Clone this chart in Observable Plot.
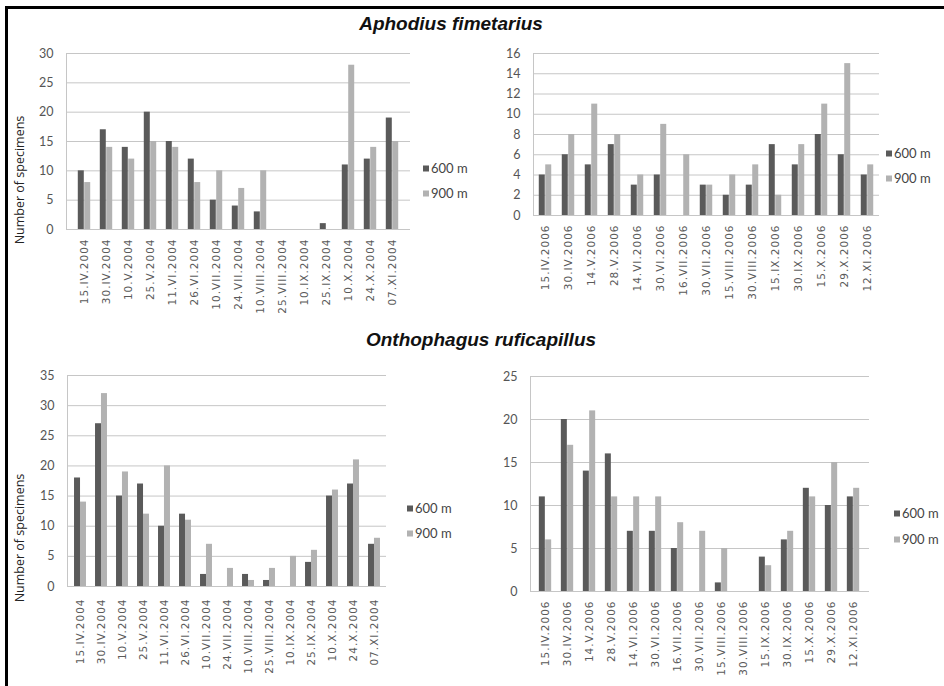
<!DOCTYPE html>
<html><head><meta charset="utf-8">
<script src="https://cdn.jsdelivr.net/npm/d3@7"></script>
<script src="https://cdn.jsdelivr.net/npm/@observablehq/plot@0.6"></script>
<style>
body{margin:0;background:#fff;}
#fig{position:relative;width:944px;height:686px;overflow:hidden;background:#fff;}
.abs{position:absolute;}
.border{position:absolute;left:5px;top:6px;width:950px;height:700px;border-left:3px solid #000;border-top:3px solid #000;}
.title{font-family:"Liberation Sans",Arial,sans-serif;font-weight:bold;font-style:italic;font-size:19px;line-height:19px;color:#111;white-space:nowrap;transform:translateX(-50%);}
.ytitle{font-family:"Open Sans",sans-serif;font-size:12.5px;line-height:14px;color:#222;white-space:nowrap;transform:translate(-50%,-50%) rotate(-90deg);}
.leg{font-family:Lato,sans-serif;font-size:13px;line-height:15px;color:#444;display:flex;align-items:center;white-space:nowrap;transform:translateY(-50%);}
.sw{width:6px;height:6px;margin-right:2px;display:inline-block;}
g[aria-label="x-axis tick label"] text{letter-spacing:1px;}
</style></head>
<body>
<div id="fig"></div>
<script>
// ---- data ----
const dates2004 = ["15.IV.2004","30.IV.2004","10.V.2004","25.V.2004","11.VI.2004","26.VI.2004","10.VII.2004","24.VII.2004","10.VIII.2004","25.VIII.2004","10.IX.2004","25.IX.2004","10.X.2004","24.X.2004","07.XI.2004"];
const dates2006 = ["15.IV.2006","30.IV.2006","14.V.2006","28.V.2006","14.VI.2006","30.VI.2006","16.VII.2006","30.VII.2006","15.VIII.2006","30.VIII.2006","15.IX.2006","30.IX.2006","15.X.2006","29.X.2006","12.XI.2006"];
const seriesNames = ["600 m","900 m"];
const seriesColors = ["#5a5a5a","#b2b2b2"];
const titles = ["Aphodius fimetarius","Onthophagus ruficapillus"];
const yTitle = "Number of specimens";

const aphodius2004_600 = [10,17,14,20,15,12,5,4,3,0,0,1,11,12,19];
const aphodius2004_900 = [8,14,12,15,14,8,10,7,10,0,0,0,28,14,15];
const aphodius2006_600 = [4,6,5,7,3,4,0,3,2,3,7,5,8,6,4];
const aphodius2006_900 = [5,8,11,8,4,9,6,3,4,5,2,7,11,15,5];
const onthophagus2004_600 = [18,27,15,17,10,12,2,0,2,1,0,4,15,17,7];
const onthophagus2004_900 = [14,32,19,12,20,11,7,3,1,3,5,6,16,21,8];
const onthophagus2006_600 = [11,20,14,16,7,7,5,0,1,0,4,6,12,10,11];
const onthophagus2006_900 = [6,17,21,11,11,11,8,7,5,0,3,7,11,15,12];

const ticksA2004 = [0,5,10,15,20,25,30];
const ticksA2006 = [0,2,4,6,8,10,12,14,16];
const ticksO2004 = [0,5,10,15,20,25,30,35];
const ticksO2006 = [0,5,10,15,20,25];

const fig = document.getElementById("fig");

function add(el, css){ Object.assign(el.style, css); fig.appendChild(el); return el; }

function panel(o){
  const rows = o.dates.flatMap((d,i)=>[
    {date:d, series:seriesNames[0], value:o.v600[i]},
    {date:d, series:seriesNames[1], value:o.v900[i]}
  ]);
  const pi = 0.72;
  const step = (o.width - o.ml - o.mr)/o.dates.length;
  const bw = step*(1-pi);
  const ticks = o.ticks;
  const chart = Plot.plot({
    width:o.width, height:o.height,
    marginLeft:o.ml, marginRight:o.mr, marginTop:o.mt, marginBottom:o.mb,
    style:{background:"transparent", overflow:"visible"},
    x:{domain:o.dates, paddingInner:pi, paddingOuter:pi/2, axis:null},
    y:{domain:[0, ticks[ticks.length-1]], axis:null},
    marks:[
      Plot.gridY(ticks, {stroke:"#c6c6c6", strokeOpacity:1}),
      Plot.frame({anchor:"left", stroke:"#c6c6c6"}),
      Plot.barY(rows.filter(r=>r.series===seriesNames[0]), {x:"date", y:"value", fill:seriesColors[0], dx:-bw/2}),
      Plot.barY(rows.filter(r=>r.series===seriesNames[1]), {x:"date", y:"value", fill:seriesColors[1], dx:bw/2}),
      Plot.axisY(ticks, {tickSize:0, tickPadding:13, fontSize:12.5, fontFamily:"Lato", fill:"#555", label:null}),
      Plot.axisX({tickSize:0, tickRotate:-90, tickPadding:o.labelPad, fontSize:10.5, fontFamily:"DejaVu Sans", fill:"#5a5a5a", label:null})
    ]
  });
  chart.style.position = "absolute";
  chart.style.left = o.left + "px";
  chart.style.top = o.top + "px";
  fig.appendChild(chart);
  // legend
  seriesNames.forEach((s,i)=>{
    const d = document.createElement("div");
    d.className = "leg abs";
    d.innerHTML = `<span class="sw" style="background:${seriesColors[i]}"></span>${s}`;
    add(d, {left:o.legX+"px", top:o.legY[i]+"px"});
  });
}

const b = document.createElement("div"); b.className="border"; fig.appendChild(b);

panel({dates:dates2004, v600:aphodius2004_600, v900:aphodius2004_900, ticks:ticksA2004,
  left:0, top:40, width:472, height:290, ml:66, mr:62, mt:13, mb:101, labelPad:9, legX:423, legY:[168,193]});
panel({dates:dates2006, v600:aphodius2006_600, v900:aphodius2006_900, ticks:ticksA2006,
  left:472, top:40, width:472, height:290, ml:61, mr:65, mt:13, mb:115, labelPad:9, legX:886, legY:[153,178]});
panel({dates:dates2004, v600:onthophagus2004_600, v900:onthophagus2004_900, ticks:ticksO2004,
  left:0, top:355, width:472, height:331, ml:67, mr:86, mt:20, mb:100, labelPad:12, legX:407, legY:[508,533]});
panel({dates:dates2006, v600:onthophagus2006_600, v900:onthophagus2006_900, ticks:ticksO2006,
  left:472, top:355, width:472, height:331, ml:58, mr:75, mt:21, mb:95, labelPad:9, legX:894, legY:[513,539]});

// titles
const t1 = document.createElement("div"); t1.className="title abs"; t1.textContent = titles[0];
add(t1, {left:"451px", top:"14px"});
const t2 = document.createElement("div"); t2.className="title abs"; t2.textContent = titles[1];
add(t2, {left:"481px", top:"330px"});
// y titles
const y1 = document.createElement("div"); y1.className="ytitle abs"; y1.textContent = yTitle;
add(y1, {left:"20px", top:"180px"});
const y2 = document.createElement("div"); y2.className="ytitle abs"; y2.textContent = yTitle;
add(y2, {left:"20px", top:"538px"});
</script>
</body></html>
